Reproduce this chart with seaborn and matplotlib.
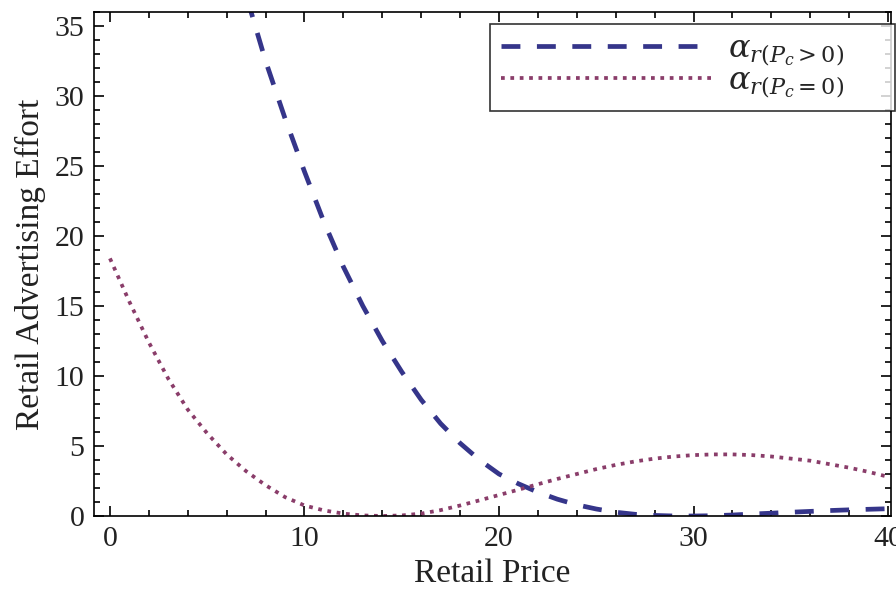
import numpy as np
import pandas as pd
import seaborn as sns
import matplotlib
matplotlib.use("Agg")
import matplotlib.pyplot as plt
from matplotlib.ticker import MultipleLocator
from matplotlib.lines import Line2D

# ---- data ----
price_pos = [7, 8, 9, 10, 11, 12, 13, 14, 15, 16, 17, 18, 19, 20, 21, 22, 23, 24,
             25, 26, 27, 28, 29, 30, 31, 32, 33, 34, 35, 36, 37, 38, 39, 40]
effort_pos = [37.2, 32.5, 28.4, 24.6, 21.0, 17.8, 15.0, 12.5, 10.3, 8.3, 6.6, 5.2,
              4.0, 3.0, 2.3, 1.7, 1.2, 0.8, 0.5, 0.27, 0.12, 0.04, 0.0, 0.0, 0.02,
              0.07, 0.14, 0.2, 0.27, 0.33, 0.39, 0.44, 0.48, 0.52]

price_zero = list(range(0, 41))
effort_zero = [18.4, 15.3, 12.4, 9.8, 7.6, 5.9, 4.4, 3.2, 2.2, 1.35, 0.75, 0.4, 0.17,
               0.04, 0.0, 0.04, 0.17, 0.42, 0.75, 1.12, 1.5, 1.88, 2.27, 2.65, 3.0,
               3.35, 3.65, 3.9, 4.1, 4.25, 4.35, 4.4, 4.4, 4.35, 4.25, 4.1, 3.95,
               3.7, 3.45, 3.15, 2.8]

label_pos = r'$\alpha_{r(P_c>0)}$'
label_zero = r'$\alpha_{r(P_c=0)}$'

x_ticks = [0, 10, 20, 30, 40]
y_ticks = [0, 5, 10, 15, 20, 25, 30, 35]

df = pd.concat([
    pd.DataFrame({"price": price_pos, "effort": effort_pos, "series": label_pos}),
    pd.DataFrame({"price": price_zero, "effort": effort_zero, "series": label_zero}),
], ignore_index=True)

sns.set_style("ticks")
plt.rcParams["font.family"] = ["Liberation Serif", "DejaVu Serif"]
plt.rcParams["mathtext.fontset"] = "dejavuserif"

fig = plt.figure(figsize=(8.96, 5.94), dpi=100)
ax = fig.add_axes([94 / 896, 1 - 516 / 594, (891 - 94) / 896, (516 - 12) / 594])

blue = "#35358a"
purple = "#8a3d6a"
sns.lineplot(data=df, x="price", y="effort", hue="series", style="series",
             palette={label_pos: blue, label_zero: purple},
             dashes={label_pos: (4, 3.5), label_zero: (1, 1.5)},
             linewidth=3.4, ax=ax, legend=False, sort=False)
ax.lines[1].set_linewidth(2.7)

ax.set_xlim(-0.82, 40.15)
ax.set_ylim(0, 36)
ax.set_xticks(x_ticks)
ax.set_yticks(y_ticks)
ax.xaxis.set_minor_locator(MultipleLocator(2))
ax.yaxis.set_minor_locator(MultipleLocator(1))
ax.tick_params(which="both", direction="in", top=True, right=True,
               width=1.2, color="black", labelsize=21.5, labelcolor="#222222")
ax.tick_params(which="major", length=7, pad=7)
ax.tick_params(which="minor", length=4.5)
for s in ax.spines.values():
    s.set_linewidth(1.2)
    s.set_color("black")

ax.set_xlabel("Retail Price", fontsize=24, color="#222222", labelpad=5)
ax.set_ylabel("Retail Advertising Effort", fontsize=24, color="#222222", labelpad=6)

handles = [Line2D([], [], color=blue, lw=3.4, dashes=(4, 3.5)),
           Line2D([], [], color=purple, lw=2.7, dashes=(1, 1.5))]
leg = fig.legend(handles, [label_pos, label_zero], loc="upper left",
                 bbox_to_anchor=(490 / 896, 1 - 108 / 594, (895 - 490) / 896, 84 / 594),
                 mode="expand", fontsize=23,
                 frameon=True, fancybox=False, handlelength=6.6, handletextpad=0.5,
                 borderpad=0.35, labelspacing=-0.05, borderaxespad=0)
leg.get_frame().set_edgecolor("black")
leg.get_frame().set_linewidth(1.2)

fig.savefig("out.png", dpi=100)
